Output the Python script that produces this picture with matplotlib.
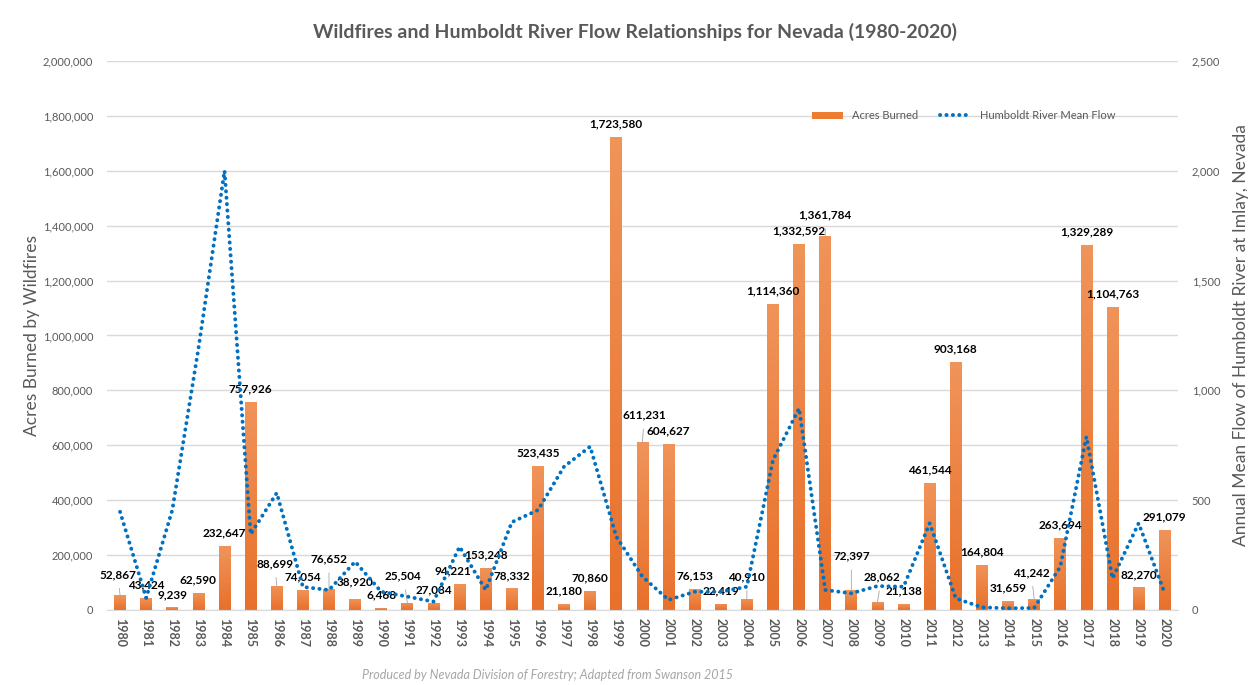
import matplotlib.pyplot as plt
import numpy as np
from matplotlib.colors import LinearSegmentedColormap

plt.rcParams['font.family'] = ['Lato', 'DejaVu Sans']

years = list(range(1980, 2021))
acres_burned = [52867, 43424, 9239, 62590, 232647, 757926, 88699, 74054, 76652, 38920,
                6468, 25504, 27084, 94221, 153248, 78332, 523435, 21180, 70860, 1723580,
                611231, 604627, 76153, 22419, 40910, 1114360, 1332592, 1361784, 72397, 28062,
                21138, 461544, 903168, 164804, 31659, 41242, 263694, 1329289, 1104763, 82270,
                291079]
river_flow = [447, 55, 455, 1190, 2000, 345, 533, 105, 91, 220,
              83, 61, 38, 288, 91, 400, 455, 653, 744, 334,
              152, 46, 83, 83, 106, 683, 918, 91, 76, 109,
              106, 395, 53, 12, 8, 9, 197, 789, 144, 395,
              76]

# label offsets in pixels (dx, dy) where Excel moved the label off the bar
label_shift = {1980: (-2, 21), 1986: (-2, 22), 1988: (0, 30), 1989: (0, 17),
               1991: (-4, 27), 1993: (-7, 13), 2000: (2, 27), 2004: (0, 22),
               2007: (0, 21), 2008: (0, 34), 2009: (4, 25), 2015: (-3, 26)}

gray = '#595959'
fig = plt.figure(figsize=(12.53, 6.85), dpi=100)
ax = fig.add_axes([0.0854, 0.1095, 0.8546, 0.8015])
ax2 = ax.twinx()

x = np.arange(len(years))
bars = ax.bar(x, acres_burned, width=0.45, color='#ED7D31', zorder=2, label='Acres Burned')
ax.set_xlim(-0.5, len(years) - 0.5)
ax.set_ylim(0, 2000000)

# vertical gradient inside each bar, lighter at the top like the Excel fill
grad_cmap = LinearSegmentedColormap.from_list('bar', ['#E8702A', '#F0945A'])
grad = np.linspace(0, 1, 256).reshape(-1, 1)
for b in bars:
    x0, w, h = b.get_x(), b.get_width(), b.get_height()
    im = ax.imshow(grad, extent=[x0, x0 + w, 0, h], origin='lower', aspect='auto',
                   cmap=grad_cmap, zorder=2.1)
    im.set_clip_path(b)
ax.set_xlim(-0.5, len(years) - 0.5)
ax.set_ylim(0, 2000000)

ax.set_yticks(np.arange(0, 2000001, 200000))
ax.yaxis.set_major_formatter(plt.FuncFormatter(lambda v, p: f'{int(v):,}'))
ax.grid(axis='y', color='#D9D9D9', lw=1, zorder=0)
ax.set_axisbelow(True)
ax.set_xticks(x)
ax.set_xticklabels(years, rotation=270, fontsize=9, fontweight='bold', color=gray)
ax.tick_params(axis='y', length=0, labelsize=8, labelcolor=gray, pad=10)
ax.tick_params(axis='x', length=0, pad=6)
for s in ['top', 'left', 'right']:
    ax.spines[s].set_visible(False)
ax.spines['bottom'].set_color('#D9D9D9')
ax.set_ylabel('Acres Burned by Wildfires', fontsize=12.5, color=gray, labelpad=2)

for xi, yr, val in zip(x, years, acres_burned):
    dx, dy = label_shift.get(yr, (0, 13))
    props = dict(arrowstyle='-', color='#A6A6A6', lw=0.6, shrinkA=4, shrinkB=0) if dy >= 20 else None
    ax.annotate(f'{val:,}', xy=(xi, val), xytext=(dx, dy), textcoords='offset pixels',
                ha='center', va='center', fontsize=8.5, fontweight='bold', color='black',
                arrowprops=props, zorder=4)

ax2.plot(x, river_flow, color='#0070C0', lw=2.8, linestyle=(0, (0.05, 1.6)),
         dash_capstyle='round', zorder=3, label='Humboldt River Mean Flow')
ax2.set_ylim(0, 2500)
ax2.set_yticks(np.arange(0, 2501, 500))
ax2.yaxis.set_major_formatter(plt.FuncFormatter(lambda v, p: f'{int(v):,}'))
ax2.tick_params(axis='y', length=0, labelsize=8, labelcolor=gray, pad=10)
for s in ['top', 'left', 'right', 'bottom']:
    ax2.spines[s].set_visible(False)
ax2.set_ylabel('Annual Mean Flow of Humboldt River at Imlay, Nevada', fontsize=12.5,
               color=gray, labelpad=9)

h1, l1 = ax.get_legend_handles_labels()
h2, l2 = ax2.get_legend_handles_labels()
leg = ax2.legend(h1 + h2, l1 + l2, ncol=2, frameon=False, fontsize=8,
                 loc='center', bbox_to_anchor=(0.80, 0.9), handlelength=2.8, columnspacing=2)
for t in leg.get_texts():
    t.set_color(gray)

fig.text(0.507, 0.953, 'Wildfires and Humboldt River Flow Relationships for Nevada (1980-2020)',
         ha='center', va='center', fontsize=14, fontweight='bold', color=gray)
fig.text(0.437, 0.015, 'Produced by Nevada Division of Forestry; Adapted from Swanson 2015',
         ha='center', va='center', fontsize=9, style='italic', color='#A6A6A6')

fig.savefig('out.png', dpi=100)
